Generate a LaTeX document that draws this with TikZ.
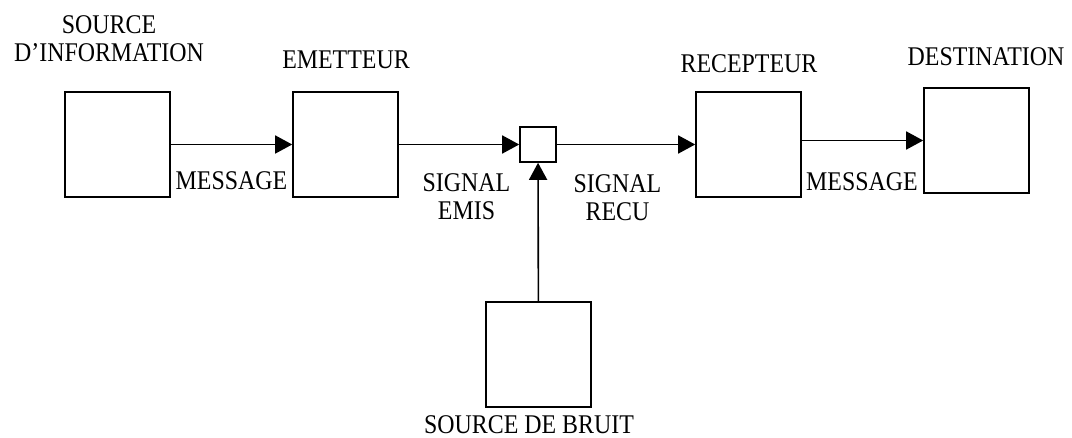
\documentclass[tikz,border=0pt]{standalone}
\usepackage{fontspec}
\setmainfont{Liberation Serif}[FakeStretch=0.885]
\usetikzlibrary{arrows.meta}
\begin{document}
\begin{tikzpicture}[x=1pt,y=-1pt,
  blk/.style={draw, line width=1.6pt, minimum width=105pt, minimum height=105pt, inner sep=0pt},
  junction/.style={draw, line width=1.6pt, minimum width=36pt, minimum height=35pt, inner sep=0pt},
  lbl/.style={inner sep=0pt, font=\fontsize{27pt}{28pt}\selectfont, align=center},
  flow/.style={line width=1.6pt, -{Triangle[length=17pt,width=18pt]}}]
\useasboundingbox[fill=white] (0,0) rectangle (1072,438);

% boxes
\node[blk] (src) at (117.5,144.5) {};
\node[blk] (emet) at (345.5,144.5) {};
\node[junction] (canal) at (538,144.5) {};
\node[blk] (recep) at (748.5,144.5) {};
\node[blk] (dest) at (976.5,140.5) {};
\node[blk] (bruit) at (538.5,354.5) {};

% titles
\node[lbl, anchor=north] (tsrc) at (109,15) {SOURCE\\D’INFORMATION};
\node[lbl, anchor=base] (temet) at (346,69) {EMETTEUR};
\node[lbl, anchor=base] (trecep) at (749,73) {RECEPTEUR};
\node[lbl, anchor=base] (tdest) at (986,66) {DESTINATION};
\node[lbl, anchor=base] (tbruit) at (529,434) {SOURCE DE BRUIT};

% connector labels
\node[lbl, anchor=base] (lmsg1) at (231.5,190) {MESSAGE};
\node[lbl, anchor=north] (lemis) at (466.5,173) {SIGNAL\\EMIS};
\node[lbl, anchor=north] (lrecu) at (617.5,174) {SIGNAL\\RECU};
\node[lbl, anchor=base] (lmsg2) at (862,191) {MESSAGE};

% connectors
\draw[flow] (src) -- (emet);
\draw[flow] (emet) -- (canal);
\draw[flow] (canal) -- (recep);
\draw[flow] (recep.east |- dest.west) -- (dest.west);
\draw[flow] (bruit) -- (canal);
\end{tikzpicture}
\end{document}
